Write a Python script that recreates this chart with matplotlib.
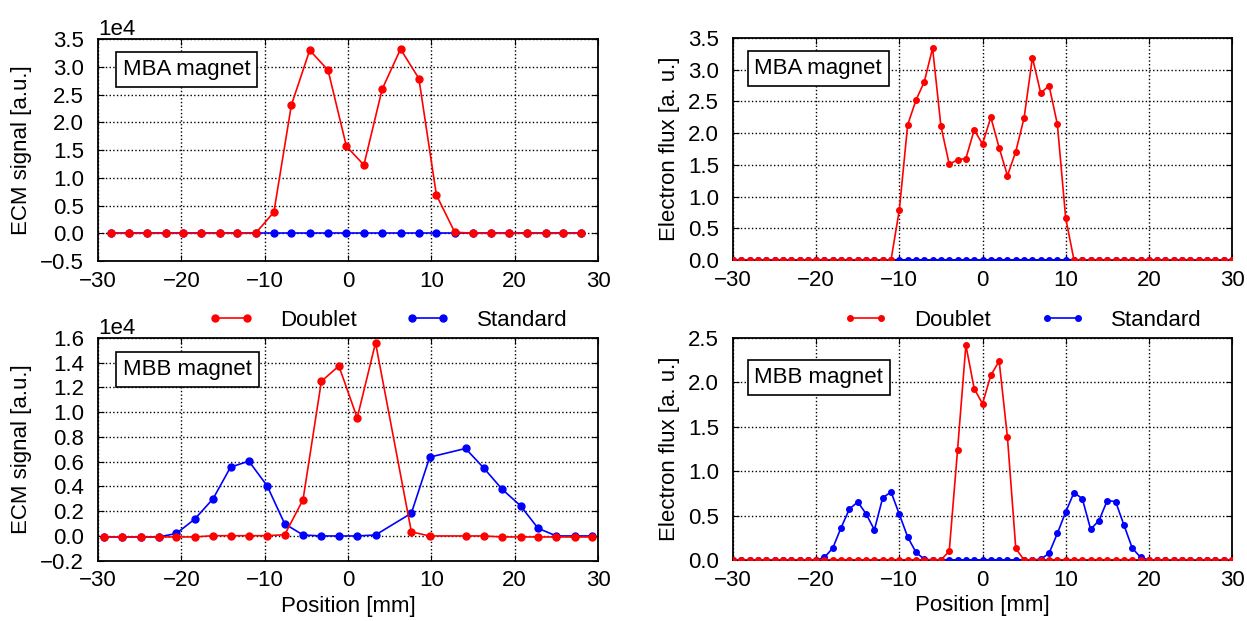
import matplotlib
matplotlib.use('Agg')
import matplotlib.pyplot as plt

plt.rcParams['font.family'] = ['Liberation Sans', 'DejaVu Sans']
plt.rcParams['font.size'] = 16

# ECM signal, left column (positions in mm)
pos_mba = [-28.4, -26.3, -24.1, -21.9, -19.8, -17.6, -15.4, -13.3, -11.1, -8.9,
           -6.8, -4.6, -2.4, -0.2, 1.9, 4.1, 6.3, 8.5, 10.6, 12.8,
           15.0, 17.1, 19.3, 21.5, 23.7, 25.8, 28.0]
ecm_mba_doublet = [0, 0, 0, 0, 0, 0, 0, 0, 0, 3800,
                   23100, 33000, 29400, 15700, 12300, 26000, 33200, 27900, 6900, 200,
                   0, 0, 0, 0, 0, 0, 0]
ecm_mba_standard = [0] * 27

pos_mbb = [-29.3, -27.1, -24.9, -22.7, -20.6, -18.4, -16.2, -14.1, -11.9, -9.7,
           -7.6, -5.4, -3.2, -1.1, 1.1, 3.3, 7.6, 9.8, 14.1, 16.3,
           18.5, 20.7, 22.8, 25.0, 27.2, 29.3]
ecm_mbb_doublet = [-80, -80, -80, -80, -80, -80, 20, 20, 20, 20,
                   100, 2930, 12500, 13740, 9540, 15610, 330, 0, 0, 0,
                   -80, -80, -80, -80, -80, -80]
ecm_mbb_standard = [-80, -80, -80, -80, 200, 1360, 3000, 5560, 6050, 4040,
                    980, 80, 0, 0, 0, 80, 1840, 6370, 7070, 5480,
                    3770, 2440, 620, 0, 0, 0]

# electron flux, right column
pos_flux = [-30, -29, -28, -27, -26, -25, -24, -23, -22, -21,
            -20, -19, -18, -17, -16, -15, -14, -13, -12, -11,
            -10, -9, -8, -7, -6, -5, -4, -3, -2, -1,
            0, 1, 2, 3, 4, 5, 6, 7, 8, 9,
            10, 11, 12, 13, 14, 15, 16, 17, 18, 19,
            20, 21, 22, 23, 24, 25, 26, 27, 28, 29, 30]
flux_mba_doublet = [0] * 20 + [0.79, 2.13, 2.52, 2.81, 3.34, 2.11, 1.51, 1.58, 1.60, 2.05,
                               1.83, 2.25, 1.77, 1.33, 1.71, 2.24, 3.19, 2.63, 2.75, 2.14,
                               0.66] + [0] * 20
flux_mba_standard = [0] * 61
flux_mbb_doublet = [0] * 26 + [0.10, 1.24, 2.42, 1.93, 1.76, 2.08, 2.24, 1.38, 0.13] + [0] * 26
flux_mbb_standard = ([0] * 11 + [0.03, 0.135, 0.365, 0.575, 0.654, 0.52, 0.34, 0.70, 0.767,
                                 0.515, 0.26, 0.086, 0.01] + [0] * 13 +
                     [0.01, 0.075, 0.30, 0.54, 0.76, 0.69, 0.346, 0.444, 0.67, 0.658,
                      0.395, 0.135, 0.03] + [0] * 11)

fig = plt.figure(figsize=(12.47, 6.21), dpi=100)

ax1 = fig.add_axes([0.0786, 0.5797, 0.4010, 0.3573])
ax2 = fig.add_axes([0.5878, 0.5813, 0.4002, 0.3575])
ax3 = fig.add_axes([0.0786, 0.0971, 0.4010, 0.3586])
ax4 = fig.add_axes([0.5878, 0.0982, 0.4002, 0.3575])


def draw(ax, x1, y1, x2, y2, ms):
    ax.plot(x2, y2, '-o', color='blue', lw=1.2, ms=ms, label='Standard', zorder=3)
    ax.plot(x1, y1, '-o', color='red', lw=1.2, ms=ms, label='Doublet', zorder=4)
    ax.set_xlim(-30, 30)
    ax.set_xticks([-30, -20, -10, 0, 10, 20, 30])
    ax.grid(True, color='black', linestyle=':', linewidth=1)
    ax.tick_params(direction='in', top=True, right=True, length=4)
    ax.tick_params(axis='x', pad=7)
    ax.tick_params(axis='y', pad=10)
    for s in ax.spines.values():
        s.set_linewidth(1.3)


draw(ax1, pos_mba, ecm_mba_doublet, pos_mba, ecm_mba_standard, 5)
draw(ax2, pos_flux, flux_mba_doublet, pos_flux, flux_mba_standard, 4)
draw(ax3, pos_mbb, ecm_mbb_doublet, pos_mbb, ecm_mbb_standard, 5)
draw(ax4, pos_flux, flux_mbb_doublet, pos_flux, flux_mbb_standard, 4)

ax1.set_ylim(-5000, 35000)
ax1.set_yticks([-5000, 0, 5000, 10000, 15000, 20000, 25000, 30000, 35000])
ax3.set_ylim(-2000, 16000)
ax3.set_yticks([-2000, 0, 2000, 4000, 6000, 8000, 10000, 12000, 14000, 16000])
for ax in (ax1, ax3):
    ax.ticklabel_format(axis='y', style='sci', scilimits=(0, 0))
    ax.yaxis.get_offset_text().set_fontsize(16)
    ax.set_ylabel('ECM signal [a.u.]', labelpad=6)

ax2.set_ylim(0, 3.5)
ax2.set_yticks([0, 0.5, 1.0, 1.5, 2.0, 2.5, 3.0, 3.5])
ax4.set_ylim(0, 2.5)
ax4.set_yticks([0, 0.5, 1.0, 1.5, 2.0, 2.5])
for ax in (ax2, ax4):
    ax.yaxis.set_major_formatter(matplotlib.ticker.FormatStrFormatter('%.1f'))
    ax.set_ylabel('Electron flux [a. u.]', labelpad=6)

for ax in (ax3, ax4):
    ax.set_xlabel('Position [mm]', labelpad=3)

box = dict(boxstyle='square,pad=0.3', fc='white', ec='black', lw=1.2)
ax1.text(0.05, 0.91, 'MBA magnet', transform=ax1.transAxes, va='top', bbox=box, zorder=6)
ax2.text(0.043, 0.91, 'MBA magnet', transform=ax2.transAxes, va='top', bbox=box, zorder=6)
ax3.text(0.05, 0.905, 'MBB magnet', transform=ax3.transAxes, va='top', bbox=box, zorder=6)
ax4.text(0.043, 0.87, 'MBB magnet', transform=ax4.transAxes, va='top', bbox=box, zorder=6)

for ax in (ax3, ax4):
    h, l = ax.get_legend_handles_labels()
    ax.legend(h[::-1], l[::-1], ncol=2, frameon=False, loc='center',
              bbox_to_anchor=(0.58, 1.08), numpoints=2, handlelength=2.0,
              handletextpad=1.2, columnspacing=2.2, borderaxespad=0)

fig.savefig('out.png', dpi=100)
